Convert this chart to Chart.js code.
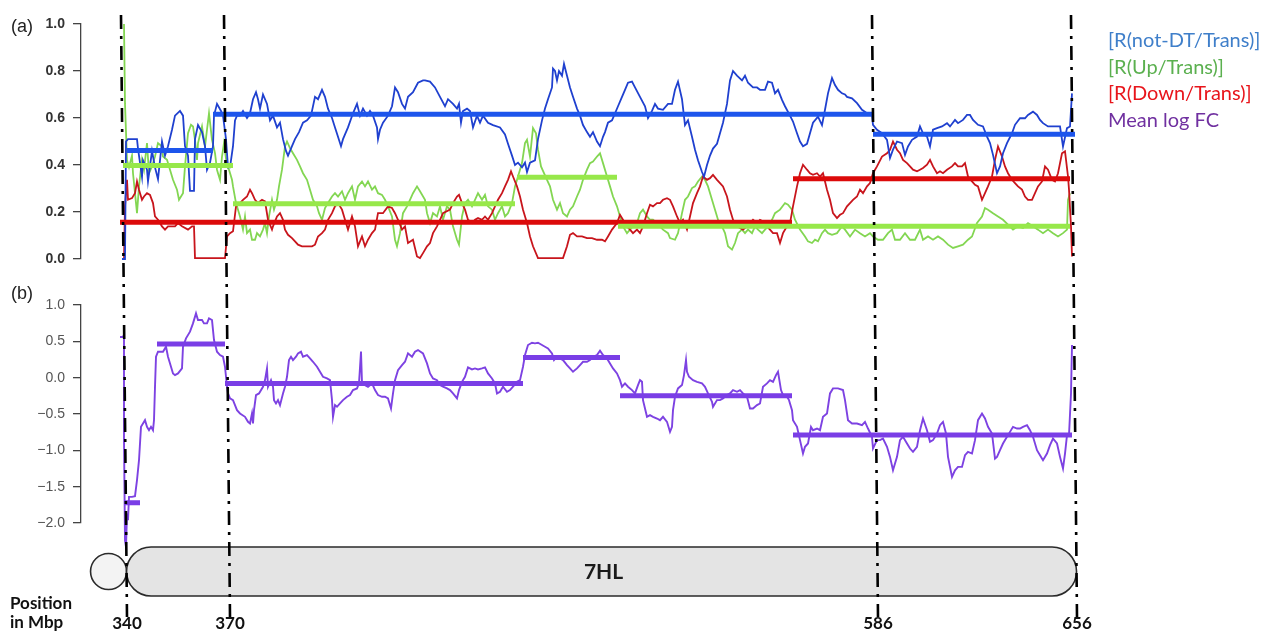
<!DOCTYPE html>
<html>
<head>
<meta charset="utf-8">
<script src="https://cdn.jsdelivr.net/npm/chart.js@4.4.1/dist/chart.umd.min.js"></script>
<style>
  html, body { margin: 0; padding: 0; background: #fff; }
  #wrap { position: relative; width: 1270px; height: 634px; overflow: hidden; }
  canvas { position: absolute; left: 0; }
  #chartRatio { top: 0; }
  #chartFc { top: 280px; }
  .panel { position: absolute; left: 11px; font: 18px "Liberation Sans", Arial, sans-serif; color: #222; }
  .legend { position: absolute; left: 1108px; top: 26px; font: 20px Lato, sans-serif; line-height: 26.7px; white-space: nowrap; }
  .pos { position: absolute; left: 10px; font: bold 17px Lato, sans-serif; color: #111; line-height: 18px; }
</style>
</head>
<body>
<div id="wrap">
  <canvas id="chartRatio" width="1270" height="280"></canvas>
  <canvas id="chartFc" width="1270" height="354"></canvas>
  <div class="panel" style="top:16px">(a)</div>
  <div class="panel" style="top:283px">(b)</div>
  <div class="legend">
    <div style="color:#3f7fca">[R(not-DT/Trans)]</div>
    <div style="color:#5bb04f">[R(Up/Trans)]</div>
    <div style="color:#e8151b">[R(Down/Trans)]</div>
    <div style="color:#7030a0">Mean log FC</div>
  </div>
  <div class="pos" style="top:594px">Position</div>
  <div class="pos" style="top:613px">in Mbp</div>
</div>
<script>
// Window index along 7HL (ordered windows), boundaries of the four marked positions
const boundaryIdx = [3, 106, 754, 953];
const boundaryMbp = ['340', '370', '586', '656'];

// Sliding-window ratios: [window index, ratio]
const notDtTrace = [[1,0],[4,0],[5,0.5],[7,0.51],[16,0.51],[17,0.47],[21,0.35],[22,0.42],[26,0.38],[27,0.33],[31,0.46],[34,0.39],[37,0.34],[41,0.50],[44,0.44],[47,0.48],[51,0.55],[54,0.61],[59,0.63],[62,0.61],[64,0.48],[67,0.44],[69,0.29],[73,0.29],[74,0.51],[77,0.57],[81,0.54],[84,0.48],[86,0.38],[89,0.41],[92,0.48],[93,0.61],[96,0.66],[100,0.63],[102,0.61],[105,0.51],[107,0.39],[109,0.39],[112,0.48],[114,0.59],[116,0.61],[119,0.61],[122,0.63],[126,0.60],[129,0.62],[132,0.68],[135,0.71],[137,0.68],[139,0.64],[142,0.70],[146,0.66],[149,0.59],[152,0.61],[156,0.56],[159,0.58],[162,0.51],[165,0.46],[167,0.44],[171,0.48],[174,0.51],[178,0.54],[182,0.58],[186,0.59],[190,0.61],[194,0.69],[197,0.68],[201,0.72],[204,0.69],[207,0.64],[211,0.60],[214,0.56],[217,0.52],[220,0.48],[222,0.51],[227,0.56],[232,0.62],[236,0.66],[239,0.61],[242,0.64],[246,0.61],[249,0.63],[252,0.61],[256,0.56],[257,0.51],[259,0.55],[262,0.58],[267,0.61],[271,0.65],[274,0.73],[277,0.71],[281,0.66],[284,0.64],[287,0.69],[292,0.71],[297,0.75],[302,0.76],[304,0.76],[309,0.755],[314,0.73],[319,0.69],[324,0.65],[327,0.68],[332,0.66],[336,0.64],[338,0.66],[340,0.58],[342,0.63],[346,0.64],[349,0.63],[352,0.56],[356,0.61],[359,0.58],[362,0.61],[367,0.58],[372,0.57],[379,0.56],[384,0.53],[387,0.49],[391,0.44],[394,0.40],[397,0.41],[401,0.39],[404,0.41],[406,0.37],[409,0.41],[414,0.42],[417,0.51],[421,0.59],[424,0.64],[427,0.68],[431,0.73],[432,0.81],[434,0.80],[436,0.76],[438,0.80],[441,0.78],[443,0.83],[446,0.78],[449,0.73],[452,0.69],[456,0.64],[459,0.61],[462,0.57],[466,0.54],[469,0.52],[472,0.54],[476,0.50],[479,0.48],[482,0.52],[484,0.54],[487,0.58],[491,0.59],[494,0.62],[497,0.65],[501,0.69],[504,0.72],[507,0.75],[511,0.755],[514,0.73],[519,0.69],[524,0.65],[527,0.60],[531,0.63],[534,0.66],[537,0.64],[542,0.635],[547,0.66],[551,0.66],[554,0.72],[557,0.755],[561,0.68],[564,0.57],[567,0.59],[571,0.52],[574,0.465],[577,0.42],[581,0.37],[583,0.35],[586,0.40],[589,0.44],[592,0.47],[596,0.49],[599,0.535],[602,0.58],[606,0.66],[609,0.76],[612,0.80],[616,0.78],[621,0.76],[624,0.78],[627,0.75],[632,0.73],[636,0.73],[639,0.72],[644,0.72],[647,0.755],[651,0.75],[654,0.705],[657,0.72],[661,0.677],[664,0.65],[669,0.61],[672,0.585],[676,0.535],[679,0.50],[682,0.48],[686,0.49],[689,0.535],[692,0.58],[697,0.606],[701,0.57],[704,0.635],[707,0.705],[711,0.77],[714,0.74],[717,0.72],[721,0.705],[724,0.70],[726,0.69],[731,0.684],[736,0.663],[741,0.635],[746,0.62],[751,0.613],[752,0.571],[756,0.55],[761,0.535],[766,0.507],[769,0.43],[772,0.465],[776,0.50],[781,0.493],[784,0.443],[787,0.479],[791,0.507],[796,0.521],[799,0.564],[802,0.535],[806,0.521],[809,0.479],[812,0.55],[816,0.557],[821,0.564],[826,0.578],[829,0.564],[834,0.592],[837,0.578],[842,0.592],[846,0.613],[849,0.613],[852,0.592],[857,0.571],[862,0.564],[866,0.521],[869,0.493],[872,0.443],[876,0.365],[879,0.394],[882,0.45],[886,0.493],[891,0.535],[894,0.571],[899,0.599],[904,0.599],[907,0.613],[912,0.627],[916,0.613],[919,0.592],[922,0.578],[927,0.564],[936,0.564],[939,0.564],[942,0.479],[946,0.557],[949,0.564],[951,0.705]];

const upTrace = [[3,1.0],[4,0.66],[6,0.42],[8,0.39],[11,0.44],[12,0.365],[16,0.195],[18,0.309],[21,0.422],[23,0.38],[26,0.493],[28,0.365],[31,0.394],[34,0.436],[37,0.493],[41,0.479],[42,0.436],[46,0.422],[49,0.38],[52,0.337],[56,0.295],[58,0.252],[62,0.28],[64,0.394],[67,0.535],[70,0.571],[72,0.564],[74,0.507],[76,0.422],[77,0.493],[81,0.564],[84,0.479],[86,0.55],[88,0.62],[91,0.507],[94,0.45],[96,0.38],[97,0.365],[99,0.337],[101,0.436],[103,0.493],[106,0.394],[108,0.38],[111,0.337],[112,0.309],[115,0.238],[117,0.21],[119,0.181],[122,0.125],[124,0.181],[126,0.11],[129,0.125],[131,0.082],[134,0.082],[136,0.11],[139,0.096],[142,0.125],[144,0.153],[146,0.11],[148,0.181],[151,0.252],[153,0.21],[156,0.252],[158,0.309],[161,0.38],[164,0.479],[166,0.50],[169,0.472],[172,0.45],[176,0.422],[179,0.394],[182,0.365],[186,0.337],[189,0.295],[192,0.252],[196,0.224],[198,0.195],[201,0.167],[204,0.217],[207,0.238],[211,0.266],[214,0.28],[217,0.266],[221,0.288],[224,0.252],[227,0.28],[231,0.309],[234,0.252],[237,0.309],[241,0.33],[244,0.309],[247,0.33],[251,0.295],[254,0.309],[257,0.28],[261,0.273],[264,0.252],[267,0.224],[271,0.181],[274,0.082],[276,0.054],[279,0.11],[282,0.195],[286,0.224],[289,0.252],[292,0.28],[296,0.309],[299,0.288],[304,0.252],[306,0.195],[309,0.153],[312,0.195],[316,0.181],[319,0.224],[322,0.167],[326,0.224],[329,0.21],[332,0.139],[336,0.082],[338,0.061],[341,0.181],[344,0.238],[347,0.252],[351,0.224],[354,0.252],[357,0.28],[361,0.252],[364,0.273],[367,0.224],[371,0.21],[374,0.167],[377,0.195],[381,0.224],[384,0.181],[387,0.195],[391,0.238],[394,0.309],[397,0.351],[401,0.408],[404,0.493],[406,0.507],[409,0.436],[412,0.557],[415,0.535],[417,0.465],[420,0.394],[423,0.365],[426,0.337],[429,0.309],[432,0.252],[436,0.21],[439,0.238],[442,0.195],[446,0.181],[449,0.21],[452,0.224],[456,0.266],[459,0.295],[462,0.337],[466,0.38],[469,0.408],[472,0.415],[476,0.436],[479,0.45],[482,0.408],[486,0.351],[489,0.309],[492,0.266],[496,0.224],[499,0.181],[502,0.139],[506,0.11],[509,0.125],[512,0.139],[516,0.153],[519,0.195],[522,0.21],[526,0.181],[529,0.167],[532,0.167],[536,0.153],[539,0.139],[542,0.125],[547,0.11],[549,0.089],[554,0.082],[557,0.11],[561,0.195],[564,0.252],[567,0.266],[571,0.302],[574,0.309],[577,0.33],[581,0.351],[584,0.337],[587,0.309],[591,0.252],[594,0.21],[597,0.167],[601,0.139],[604,0.11],[607,0.054],[611,0.04],[614,0.068],[617,0.11],[621,0.125],[624,0.11],[627,0.125],[631,0.11],[634,0.139],[637,0.125],[641,0.11],[644,0.125],[647,0.139],[651,0.167],[654,0.195],[659,0.21],[664,0.238],[667,0.231],[671,0.21],[674,0.167],[679,0.125],[684,0.096],[687,0.075],[691,0.068],[694,0.082],[697,0.075],[701,0.11],[704,0.125],[707,0.11],[711,0.103],[716,0.11],[721,0.139],[724,0.125],[729,0.096],[734,0.125],[739,0.11],[744,0.096],[749,0.11],[752,0.096],[757,0.082],[762,0.082],[767,0.11],[771,0.125],[774,0.082],[779,0.082],[784,0.11],[789,0.082],[794,0.082],[799,0.125],[802,0.082],[807,0.096],[812,0.082],[817,0.096],[822,0.082],[827,0.061],[832,0.047],[837,0.054],[842,0.061],[847,0.082],[851,0.096],[856,0.153],[861,0.181],[864,0.217],[867,0.21],[872,0.195],[877,0.181],[882,0.167],[887,0.146],[892,0.125],[897,0.139],[902,0.132],[907,0.153],[912,0.139],[917,0.125],[922,0.11],[927,0.125],[932,0.11],[937,0.096],[942,0.11],[946,0.125],[947,0.252],[949,0.28]];

const downTrace = [[1,0],[3,0],[4,0.224],[6,0.337],[7,0.252],[11,0.259],[14,0.28],[16,0.33],[18,0.295],[21,0.252],[23,0.266],[26,0.28],[29,0.273],[32,0.238],[34,0.181],[37,0.167],[41,0.139],[44,0.125],[47,0.139],[54,0.139],[57,0.153],[61,0.139],[67,0.125],[71,0.139],[73,0.139],[74,0.004],[104,0.004],[106,0.096],[109,0.11],[112,0.118],[115,0.224],[119,0.238],[122,0.252],[126,0.266],[129,0.295],[131,0.28],[134,0.252],[137,0.238],[141,0.252],[144,0.245],[147,0.167],[151,0.125],[152,0.139],[156,0.181],[159,0.195],[162,0.167],[164,0.125],[167,0.103],[171,0.089],[174,0.075],[177,0.061],[181,0.054],[191,0.054],[194,0.061],[197,0.096],[201,0.11],[204,0.125],[207,0.167],[211,0.195],[214,0.224],[217,0.238],[221,0.21],[224,0.167],[227,0.125],[231,0.181],[234,0.139],[237,0.054],[241,0.096],[244,0.054],[247,0.082],[251,0.11],[254,0.125],[257,0.195],[262,0.195],[267,0.224],[271,0.217],[274,0.195],[277,0.167],[281,0.125],[284,0.139],[287,0.068],[292,0.082],[296,0.011],[299,0.004],[302,0.025],[306,0.054],[309,0.068],[312,0.11],[316,0.139],[319,0.167],[322,0.195],[329,0.21],[332,0.238],[336,0.266],[338,0.273],[341,0.238],[344,0.21],[347,0.167],[351,0.153],[354,0.167],[357,0.174],[361,0.167],[364,0.181],[367,0.167],[371,0.195],[374,0.224],[377,0.252],[381,0.28],[384,0.309],[387,0.337],[390,0.373],[392,0.351],[396,0.309],[399,0.266],[402,0.21],[406,0.153],[409,0.096],[412,0.054],[417,0.004],[442,0.004],[446,0.054],[449,0.103],[452,0.11],[456,0.096],[461,0.096],[466,0.089],[471,0.089],[476,0.082],[481,0.082],[484,0.075],[487,0.096],[491,0.125],[496,0.153],[499,0.188],[502,0.167],[506,0.139],[509,0.125],[512,0.11],[516,0.125],[519,0.11],[522,0.139],[526,0.195],[529,0.231],[532,0.224],[536,0.238],[539,0.238],[542,0.252],[546,0.259],[549,0.252],[552,0.224],[556,0.181],[559,0.153],[562,0.167],[566,0.125],[569,0.181],[572,0.238],[576,0.28],[579,0.309],[582,0.351],[586,0.337],[589,0.344],[592,0.358],[596,0.337],[599,0.323],[602,0.309],[606,0.266],[609,0.21],[612,0.167],[616,0.139],[622,0.125],[626,0.139],[629,0.153],[632,0.167],[636,0.153],[639,0.167],[642,0.16],[646,0.139],[649,0.125],[652,0.11],[656,0.11],[659,0.068],[662,0.11],[666,0.139],[669,0.153],[672,0.224],[676,0.309],[679,0.365],[682,0.401],[686,0.38],[689,0.365],[692,0.358],[696,0.365],[699,0.351],[702,0.365],[706,0.295],[709,0.252],[712,0.195],[716,0.174],[719,0.188],[722,0.195],[726,0.224],[729,0.238],[732,0.252],[736,0.266],[739,0.295],[742,0.28],[746,0.309],[749,0.323],[752,0.365],[756,0.394],[761,0.436],[766,0.45],[769,0.465],[772,0.50],[776,0.465],[779,0.45],[782,0.422],[786,0.408],[789,0.394],[792,0.38],[796,0.373],[799,0.38],[802,0.387],[806,0.401],[809,0.422],[812,0.394],[816,0.365],[819,0.373],[822,0.365],[826,0.38],[831,0.394],[834,0.408],[837,0.394],[841,0.394],[844,0.408],[847,0.351],[851,0.33],[854,0.316],[857,0.309],[861,0.252],[864,0.28],[867,0.309],[871,0.351],[874,0.422],[877,0.479],[881,0.436],[884,0.394],[887,0.365],[891,0.337],[894,0.323],[897,0.309],[901,0.295],[904,0.266],[907,0.252],[911,0.252],[914,0.28],[917,0.309],[921,0.33],[924,0.394],[927,0.38],[931,0.337],[934,0.33],[937,0.365],[941,0.45],[944,0.458],[947,0.351],[948,0.295],[950,0.139],[951,0.011]];

// Sliding-window mean log fold change: [window index, mean log FC]
const logFcTrace = [[-1,0.56],[2,0.56],[3,0.59],[3,-0.86],[4,-2.24],[5,-2.33],[6,-1.87],[7,-1.96],[8,-1.64],[11,-1.64],[14,-1.63],[16,-1.41],[18,-1.136],[20,-0.677],[22,-0.631],[24,-0.585],[26,-0.677],[28,-0.723],[30,-0.677],[32,-0.723],[33,-0.585],[34,-0.125],[35,0.288],[37,0.357],[42,0.357],[45,0.426],[47,0.288],[50,0.15],[52,0.058],[54,0.035],[57,0.058],[61,0.127],[62,0.426],[65,0.541],[69,0.633],[72,0.747],[75,0.885],[77,0.793],[81,0.793],[83,0.747],[86,0.747],[88,0.816],[91,0.793],[93,0.518],[96,0.357],[99,0.311],[102,0.288],[104,0.15],[106,-0.125],[107,-0.217],[109,-0.286],[112,-0.309],[116,-0.447],[119,-0.493],[124,-0.539],[127,-0.608],[129,-0.631],[131,-0.493],[132,-0.631],[133,-0.447],[135,-0.24],[138,-0.217],[142,-0.125],[144,-0.034],[146,0.127],[147,-0.125],[150,-0.034],[152,-0.125],[153,-0.309],[155,-0.355],[157,-0.309],[159,-0.378],[162,-0.217],[164,-0.125],[166,0.012],[168,0.242],[170,0.288],[172,0.242],[175,0.288],[177,0.334],[180,0.357],[182,0.288],[186,0.311],[189,0.265],[192,0.219],[196,0.15],[199,0.081],[202,0.012],[206,-0.011],[209,-0.034],[211,-0.309],[212,-0.539],[214,-0.378],[216,-0.401],[219,-0.355],[222,-0.309],[226,-0.263],[229,-0.24],[232,-0.171],[236,-0.148],[238,-0.079],[240,0.36],[241,-0.079],[244,-0.102],[247,-0.125],[251,-0.079],[254,-0.171],[257,-0.24],[261,-0.263],[264,-0.263],[267,-0.286],[270,-0.424],[272,-0.217],[274,-0.034],[277,0.104],[281,0.173],[284,0.219],[287,0.334],[291,0.288],[294,0.357],[297,0.38],[302,0.334],[306,0.196],[309,0.058],[312,-0.011],[316,-0.034],[319,-0.102],[322,-0.125],[326,-0.148],[329,-0.171],[332,-0.217],[336,-0.286],[338,-0.171],[341,-0.057],[344,0.012],[347,0.141],[351,0.113],[354,0.127],[357,0.113],[361,0.127],[364,0.141],[367,0.058],[371,-0.011],[374,-0.079],[376,-0.217],[379,-0.194],[382,-0.125],[386,-0.194],[389,-0.171],[392,-0.125],[396,-0.057],[399,-0.034],[402,0.15],[404,0.311],[407,0.449],[411,0.481],[414,0.472],[417,0.481],[421,0.449],[424,0.426],[427,0.403],[431,0.334],[433,0.242],[436,0.288],[439,0.265],[442,0.242],[446,0.173],[449,0.127],[452,0.081],[456,0.127],[459,0.173],[462,0.219],[466,0.219],[469,0.242],[472,0.288],[476,0.311],[479,0.371],[482,0.311],[486,0.265],[489,0.196],[492,0.127],[496,0.058],[499,-0.034],[501,-0.125],[504,-0.079],[507,-0.125],[511,-0.171],[514,-0.217],[517,-0.102],[519,-0.034],[521,-0.057],[522,-0.309],[524,-0.424],[526,-0.539],[529,-0.516],[532,-0.539],[536,-0.562],[539,-0.585],[542,-0.539],[546,-0.608],[549,-0.746],[551,-0.677],[552,-0.447],[554,-0.263],[557,-0.148],[561,-0.102],[563,0.035],[565,0.242],[566,0.081],[568,0.012],[572,-0.034],[576,-0.057],[581,-0.079],[584,-0.125],[587,-0.217],[591,-0.332],[592,-0.401],[596,-0.309],[599,-0.309],[602,-0.286],[606,-0.24],[609,-0.217],[612,-0.171],[616,-0.194],[619,-0.171],[622,-0.217],[626,-0.263],[629,-0.424],[632,-0.424],[636,-0.378],[639,-0.355],[642,-0.125],[646,-0.079],[649,-0.034],[652,-0.057],[655,0.035],[657,0.081],[660,-0.171],[662,-0.24],[666,-0.263],[668,-0.309],[671,-0.447],[672,-0.585],[676,-0.677],[679,-0.86],[682,-1.044],[684,-0.952],[687,-0.906],[690,-0.677],[692,-0.723],[696,-0.7],[699,-0.723],[702,-0.539],[706,-0.493],[709,-0.217],[712,-0.148],[717,-0.148],[722,-0.171],[724,-0.309],[727,-0.585],[731,-0.631],[736,-0.631],[741,-0.654],[744,-0.608],[747,-0.7],[751,-0.814],[752,-0.975],[756,-0.86],[759,-0.86],[762,-0.837],[766,-0.952],[769,-1.09],[772,-1.274],[776,-1.09],[779,-0.86],[782,-0.814],[786,-0.906],[789,-0.975],[792,-1.021],[796,-0.952],[799,-0.723],[802,-0.562],[806,-0.723],[809,-0.883],[812,-0.86],[816,-0.768],[819,-0.654],[822,-0.608],[825,-0.768],[827,-1.09],[831,-1.366],[834,-1.274],[837,-1.228],[841,-1.228],[844,-1.067],[847,-1.021],[851,-1.044],[854,-0.86],[857,-0.585],[861,-0.493],[864,-0.562],[867,-0.677],[871,-0.768],[874,-1.113],[876,-1.09],[879,-0.998],[882,-0.906],[886,-0.814],[889,-0.746],[892,-0.677],[896,-0.7],[899,-0.7],[902,-0.677],[906,-0.654],[909,-0.723],[912,-0.814],[916,-0.998],[919,-1.067],[922,-1.136],[926,-1.044],[929,-0.929],[932,-0.837],[936,-0.906],[939,-1.09],[942,-1.251],[944,-1.044],[946,-0.791],[948,-0.791],[950,-0.217],[951,0.449]];

// Segment means: [start index, end index, mean]
const notDtSeg = [[6,92,0.462],[92,752,0.616],[752,954,0.531]];
const upSeg = [[2,112,0.398],[112,394,0.235],[396,496,0.348],[497,949,0.139]];
const downSeg = [[-1,671,0.156],[672,949,0.341]];
const logFcSeg = [[4,19,-1.72],[36,104,0.465],[104,402,-0.08],[402,499,0.279],[499,671,-0.25],[672,951,-0.79]];

// Page-level extent of the boundary guide lines (page y) and their slight lean
const GUIDE_TOP = 15, GUIDE_BOTTOM = 617, GUIDE_SKEW = 3;

const X_MIN = -40, X_MAX = 959;

function traceDs(trace, color, width) {
  return {
    data: trace.map(([x, y]) => ({ x, y })),
    borderColor: color, borderWidth: width,
    pointRadius: 0, tension: 0, fill: false, clip: false,
    borderJoinStyle: 'miter'
  };
}
function segDs(segs, color) {
  const data = [];
  segs.forEach(([a, b, v]) => { data.push({ x: a, y: v }, { x: b, y: v }, { x: b, y: null }); });
  return {
    data, borderColor: color, borderWidth: 5, borderCapStyle: 'butt',
    pointRadius: 0, tension: 0, fill: false, clip: false, spanGaps: false
  };
}

function guideX(xs, idx, pageY) {
  const px = xs.getPixelForValue(idx);
  const t = (pageY - GUIDE_TOP) / (GUIDE_BOTTOM - GUIDE_TOP);
  return px + GUIDE_SKEW * (2 * t - 1);
}

function drawGuides(chart, canvasTop) {
  const ctx = chart.ctx, xs = chart.scales.x;
  ctx.save();
  ctx.strokeStyle = '#000';
  ctx.lineWidth = 2.6;
  ctx.setLineDash([14, 7, 3, 7]);
  boundaryIdx.forEach(idx => {
    ctx.beginPath();
    ctx.moveTo(guideX(xs, idx, GUIDE_TOP), GUIDE_TOP - canvasTop);
    ctx.lineTo(guideX(xs, idx, GUIDE_BOTTOM), GUIDE_BOTTOM - canvasTop);
    ctx.stroke();
  });
  ctx.restore();
}

function yAxis(min, max, step, tickFont, tickColor, fmt) {
  return {
    type: 'linear', position: 'left', min, max,
    afterFit: s => { s.width = 81; },
    border: { display: true, color: '#444', width: 1.3 },
    grid: { drawOnChartArea: false, drawTicks: true, tickLength: 8, color: '#444', lineWidth: 1.3 },
    ticks: { stepSize: step, padding: 8, color: tickColor, font: tickFont, callback: fmt }
  };
}
const xAxis = { type: 'linear', min: X_MIN, max: X_MAX, display: false };

const commonOpts = {
  responsive: false, animation: false, events: [],
  plugins: { legend: { display: false }, tooltip: { enabled: false } }
};

// (a) ratio panel
new Chart(document.getElementById('chartRatio'), {
  type: 'line',
  data: {
    datasets: [
      segDs(notDtSeg, '#1d55ec'),
      segDs(upSeg, '#97e84a'),
      segDs(downSeg, '#dc0a0a'),
      traceDs(notDtTrace, '#1f40cf', 1.8),
      traceDs(downTrace, '#c8151c', 1.8),
      traceDs(upTrace, '#83d652', 1.8)
    ]
  },
  options: Object.assign({}, commonOpts, {
    layout: { padding: { left: 0, right: 190, top: 24, bottom: 21 } },
    scales: {
      x: xAxis,
      y: yAxis(0, 1, 0.2, { family: 'Liberation Sans', size: 14, weight: 'bold' }, '#333', v => v.toFixed(1))
    }
  }),
  plugins: [{ id: 'guidesA', afterDatasetsDraw: c => drawGuides(c, 0) }]
});

// (b) mean log FC panel, with chromosome ideogram and Mbp positions below
const ideogram = {
  id: 'ideogram',
  afterDatasetsDraw(chart) {
    const ctx = chart.ctx, xs = chart.scales.x, top = 280;
    const yTop = 547 - top, yBot = 596 - top, h = yBot - yTop, r = h / 2;
    const left = guideX(xs, boundaryIdx[0], 571), right = guideX(xs, boundaryIdx[3], 571);
    ctx.save();
    // centromere
    ctx.beginPath();
    ctx.arc(left - 18, yTop + r, 18, 0, Math.PI * 2);
    ctx.fillStyle = '#f3f3f3'; ctx.fill();
    ctx.lineWidth = 1.6; ctx.strokeStyle = '#2a2a2a'; ctx.stroke();
    // long arm
    ctx.beginPath();
    ctx.moveTo(left + r, yTop);
    ctx.lineTo(right - r, yTop);
    ctx.arc(right - r, yTop + r, r, -Math.PI / 2, Math.PI / 2);
    ctx.lineTo(left + r, yBot);
    ctx.arc(left + r, yTop + r, r, Math.PI / 2, Math.PI * 1.5);
    ctx.closePath();
    ctx.fillStyle = '#e4e4e4'; ctx.fill();
    ctx.stroke();
    ctx.fillStyle = '#1a1a1a';
    ctx.font = 'bold 21px Lato, sans-serif';
    ctx.textAlign = 'center'; ctx.textBaseline = 'middle';
    ctx.fillText('7HL', (left + right) / 2 + 2, yTop + r + 1);
    ctx.restore();

    drawGuides(chart, top);

    ctx.save();
    ctx.fillStyle = '#111';
    ctx.font = 'bold 17px Lato, sans-serif';
    ctx.textAlign = 'center'; ctx.textBaseline = 'alphabetic';
    boundaryIdx.forEach((idx, i) => {
      ctx.fillText(boundaryMbp[i], guideX(xs, idx, GUIDE_BOTTOM), 629 - top);
    });
    ctx.restore();
  }
};

new Chart(document.getElementById('chartFc'), {
  type: 'line',
  data: {
    datasets: [
      segDs(logFcSeg, '#7a3ee6'),
      traceDs(logFcTrace, '#7d42e2', 1.9)
    ]
  },
  options: Object.assign({}, commonOpts, {
    layout: { padding: { left: 0, right: 190, top: 25, bottom: 111 } },
    scales: {
      x: xAxis,
      y: yAxis(-2, 1, 0.5, { family: 'Liberation Sans', size: 14 }, '#555', v => v.toFixed(1).replace('-', '\u2212'))
    }
  }),
  plugins: [ideogram]
});
</script>
</body>
</html>
